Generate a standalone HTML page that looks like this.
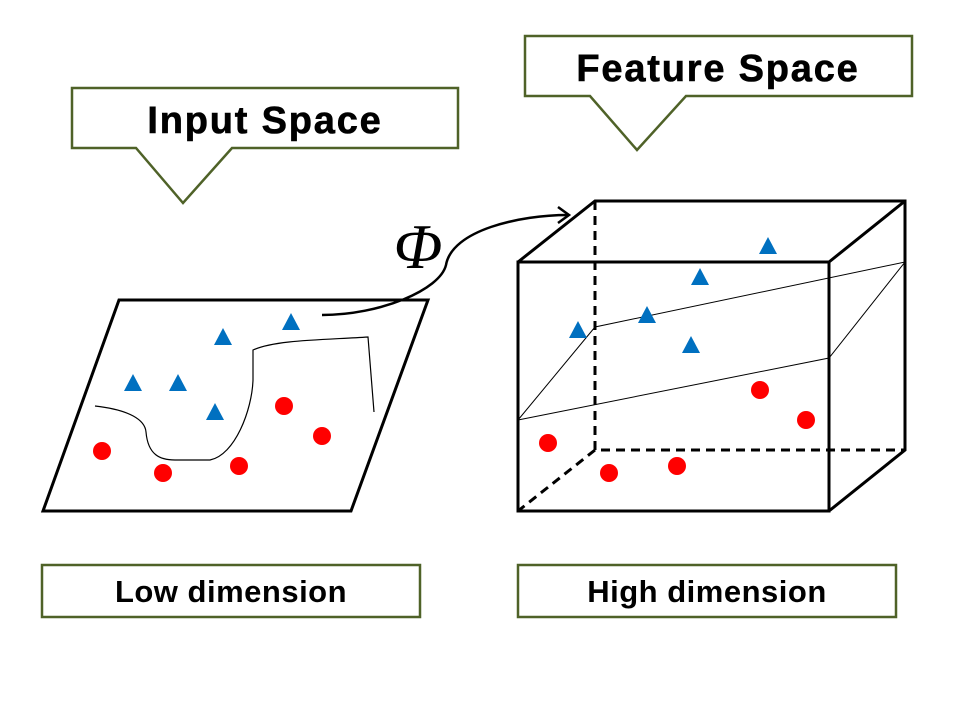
<!DOCTYPE html>
<html><head><meta charset="utf-8"><style>
body{margin:0;background:#fff;}
svg{display:block;font-family:"Liberation Sans","Noto Sans CJK KR",sans-serif;}
</style></head><body>
<svg width="960" height="720" viewBox="0 0 960 720">
<g>
<path d="M72,88 H458 V148 H232 L183,203 L136,148 H72 Z" fill="#fff" stroke="#4f6228" stroke-width="2.5"/>
<text x="265" y="133" text-anchor="middle" font-size="38" font-weight="bold" letter-spacing="1.8" stroke="#000" stroke-width="0.6">Input Space</text>
</g>
<g>
<path d="M525,36 H912 V96 H686 L637,150 L590,96 H525 Z" fill="#fff" stroke="#4f6228" stroke-width="2.5"/>
<text x="718" y="81" text-anchor="middle" font-size="38" font-weight="bold" letter-spacing="1.8" stroke="#000" stroke-width="0.6">Feature Space</text>
</g>
<g>
<path d="M119,300 L428,300 L351,511 L43,511 Z" fill="#fff" stroke="#000" stroke-width="3"/>
<path d="M95,406 C130,410 145,420 146,432 C148,455 160,460 175,460 L210,460 C235,455 252,410 253,380 L253,350 C275,340 320,340 368,337 L374,412" fill="none" stroke="#000" stroke-width="1.2"/>
</g>
<g>
<path d="M322,315 C380,315 440,290 446,265 C452,230 520,215 568,215" fill="none" stroke="#000" stroke-width="2.5"/>
<path d="M558,207 L569,215 L558,223" fill="none" stroke="#000" stroke-width="2.5"/>
<text x="418" y="268" text-anchor="middle" font-family="Liberation Serif,serif" font-style="italic" font-size="64">Φ</text>
</g>
<g fill="none" stroke="#000">
<path d="M595,201 V450 H905 M595,450 L518,511" stroke-width="3" stroke-dasharray="9,6"/>
<path d="M518,262 H829 V511 H518 Z M518,262 L595,201 H905 V450 L829,511 M829,262 L905,201" stroke-width="3"/>
<path d="M518,420 L829,358 L905,262 L595,327 Z" stroke-width="1"/>
</g>
<g id="pts"></g>
<g>
<rect x="42" y="565" width="378" height="52" fill="#fff" stroke="#4f6228" stroke-width="2.5"/>
<text x="231" y="602" text-anchor="middle" font-size="31" font-weight="bold" letter-spacing="0.5">Low dimension</text>
</g>
<g>
<rect x="518" y="565" width="378" height="52" fill="#fff" stroke="#4f6228" stroke-width="2.5"/>
<text x="707" y="602" text-anchor="middle" font-size="31" font-weight="bold" letter-spacing="0.5">High dimension</text>
</g>
</svg>
<script>
const triX=[223,291,133,178,215,578,647,700,768,691];
const triY=[337,322,383,383,412,330,315,277,246,345];
const cirX=[102,163,239,284,322,548,609,677,760,806];
const cirY=[451,473,466,406,436,443,473,466,390,420];
const g=document.getElementById('pts');
const ns='http://www.w3.org/2000/svg';
for(let i=0;i<triX.length;i++){
 const p=document.createElementNS(ns,'path');
 const x=triX[i],y=triY[i];
 p.setAttribute('d',`M${x},${y-9} L${x+9},${y+8} L${x-9},${y+8} Z`);
 p.setAttribute('fill','#0070c0');
 
 
 g.appendChild(p);
}
for(let i=0;i<cirX.length;i++){
 const c=document.createElementNS(ns,'circle');
 c.setAttribute('cx',cirX[i]);c.setAttribute('cy',cirY[i]);c.setAttribute('r',9);
 c.setAttribute('fill','#ff0000');
 
 
 g.appendChild(c);
}
</script>
</body></html>
